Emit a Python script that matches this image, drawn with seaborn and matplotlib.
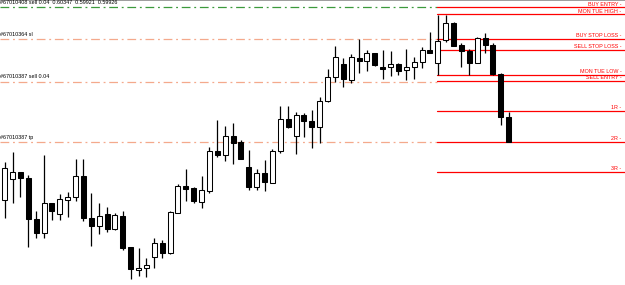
import numpy as np
import pandas as pd
import matplotlib
matplotlib.use("Agg")
import matplotlib.pyplot as plt
import seaborn as sns

# ---- candle data (chart price units) ----
opens = [85.0, 105.7, 112.7, 106.7, 66.0, 51.7, 81.7, 71.0, 85.0, 87.7,
         109.0, 67.3, 59.3, 71.0, 56.3, 69.3, 37.7, 15.0, 16.7, 28.3,
         41.7, 31.7, 72.3, 99.0, 96.7, 82.7, 94.5, 134.3, 129.7, 149.0,
         142.7, 117.7, 97.7, 111.7, 102.3, 134.0, 165.7, 149.0, 170.0, 164.3,
         157.7, 184.0, 207.7, 220.7, 205.0, 227.3, 224.0, 232.3, 218.3, 218.3,
         220.7, 214.7, 218.3, 222.7, 235.0, 221.7, 245.0, 262.3, 240.0, 234.3,
         222.3, 246.7, 240.0, 211.0, 167.7]
highs = [123.3, 133.3, 112.7, 110.0, 74.3, 130.0, 81.7, 91.0, 92.7, 125.7,
         125.7, 92.3, 82.3, 78.3, 71.7, 74.0, 38.3, 36.7, 26.7, 47.3,
         45.0, 73.7, 100.7, 115.7, 98.3, 109.0, 138.3, 165.0, 159.0, 162.3,
         145.0, 135.0, 115.7, 125.0, 136.3, 179.0, 179.0, 173.3, 171.7, 175.0,
         188.3, 215.7, 239.0, 226.7, 231.0, 245.7, 235.0, 232.3, 235.0, 234.3,
         221.7, 236.0, 228.3, 238.3, 252.7, 270.0, 270.0, 263.3, 241.7, 235.7,
         247.7, 251.7, 241.7, 212.3, 173.3]
lows = [66.7, 81.7, 88.3, 38.3, 46.7, 46.7, 65.0, 65.0, 68.3, 84.0,
        64.0, 39.0, 50.7, 53.3, 55.0, 35.0, 5.7, 9.0, 7.7, 16.7,
        26.7, 31.0, 71.7, 84.0, 82.3, 76.7, 92.3, 127.7, 123.7, 121.0,
        125.7, 95.0, 95.0, 94.3, 101.7, 132.3, 156.7, 131.0, 148.0, 136.7,
        142.3, 183.3, 203.3, 197.7, 202.3, 212.3, 214.3, 219.0, 206.0, 209.0,
        210.0, 205.0, 205.7, 216.7, 231.7, 210.0, 243.3, 239.0, 217.7, 210.0,
        221.7, 231.7, 210.0, 160.0, 143.3]
closes = [116.7, 113.0, 107.3, 65.7, 51.7, 82.3, 74.0, 85.7, 87.7, 109.0,
          66.7, 59.3, 69.3, 56.0, 69.7, 37.3, 15.7, 17.0, 20.0, 42.3,
          32.3, 73.0, 99.0, 96.3, 84.0, 95.0, 134.0, 130.3, 149.0, 142.3,
          126.3, 97.7, 111.7, 103.0, 134.0, 165.7, 158.3, 170.0, 164.3, 157.7,
          184.0, 207.7, 227.7, 205.7, 227.7, 224.0, 231.7, 220.0, 215.7, 220.7,
          214.3, 217.7, 223.0, 235.0, 231.7, 244.3, 261.7, 239.3, 234.3, 222.3,
          246.7, 240.0, 211.0, 167.7, 143.3]

# ---- level lines ----
right_names = ["BUY ENTRY -", "MON TUE HIGH -", "BUY STOP LOSS -", "SELL STOP LOSS -",
               "MON TUE LOW -", "SELL ENTRY -", "1R -", "2R -", "3R -"]
right_levels = [277.7, 270.7, 246.3, 235.0, 210.0, 204.0, 174.0, 143.3, 113.3]
order_labels = ["#67010364 sl", "#67010387 sell 0.04", "#67010387 tp"]
order_levels = [245.7, 203.3, 143.3]
pending_label = "#67010408 sell 0.04  0.60347  0.59921  0.59926"
pending_level = 278.0
box_start = 55  # index of the Monday candle where the levels begin

df = pd.DataFrame({"open": opens, "high": highs, "low": lows, "close": closes})
df["idx"] = np.arange(len(df))
df["bull"] = df["close"] >= df["open"]

sns.set_theme(style="white")
plt.rcParams["font.family"] = ["Liberation Sans Narrow", "Liberation Sans", "DejaVu Sans"]

fig = plt.figure(figsize=(6.25, 2.85), dpi=100)
ax = fig.add_axes([0, 0, 1, 1])

spacing = 7.875
x0 = 4.7
ax.set_xlim(-x0 / spacing, (625 - x0) / spacing)
ax.set_ylim(0, 285)

# order / pending lines on the left part
salmon = "#f4a98c"
xs_left = [ax.get_xlim()[0], box_start - 0.1]
for lvl, lab in zip(order_levels, order_labels):
    ax.plot(xs_left, [lvl, lvl], color=salmon, lw=0.9, ls=(0, (7, 3, 1.5, 3)), zorder=1)
    ax.text(ax.get_xlim()[0] + 0.02, lvl + 2.2, lab, fontsize=3.9, color="black",
            ha="left", va="bottom", zorder=5)
ax.plot(xs_left, [pending_level, pending_level], color="#3c9a3c", lw=0.9,
        ls=(0, (7, 3, 1.5, 3)), zorder=1)
ax.text(ax.get_xlim()[0] + 0.02, 280.0, pending_label, fontsize=3.9, color="black",
        ha="left", va="bottom", zorder=5)

# red levels on the right
for lvl, lab in zip(right_levels, right_names):
    ax.plot([box_start - 0.1, ax.get_xlim()[1]], [lvl, lvl], color="#ff0000", lw=0.9, zorder=1)
    ax.text(ax.get_xlim()[1] - 0.45, lvl + 0.6, lab, fontsize=3.9, color="#ff0000",
            ha="right", va="bottom", zorder=5)

# wicks
ax.vlines(df["idx"], df["low"], df["high"], color="black", lw=0.9, zorder=2)
# bodies
bw = 0.64
bull = df[df["bull"]]
bear = df[~df["bull"]]
ax.bar(bull["idx"], bull["close"] - bull["open"], bottom=bull["open"], width=bw,
       color="white", edgecolor="black", linewidth=0.75, zorder=3)
ax.bar(bear["idx"], bear["open"] - bear["close"], bottom=bear["close"], width=bw,
       color="black", edgecolor="black", linewidth=0.75, zorder=3)

for s in ["left", "right", "bottom"]:
    ax.spines[s].set_visible(False)
ax.spines["top"].set_visible(True)
ax.spines["top"].set_color("#8c8c8c")
ax.spines["top"].set_linewidth(1.2)
ax.set_xticks([])
ax.set_yticks([])
ax.set_xlabel("")
ax.set_ylabel("")

fig.savefig("out.png", dpi=100)
